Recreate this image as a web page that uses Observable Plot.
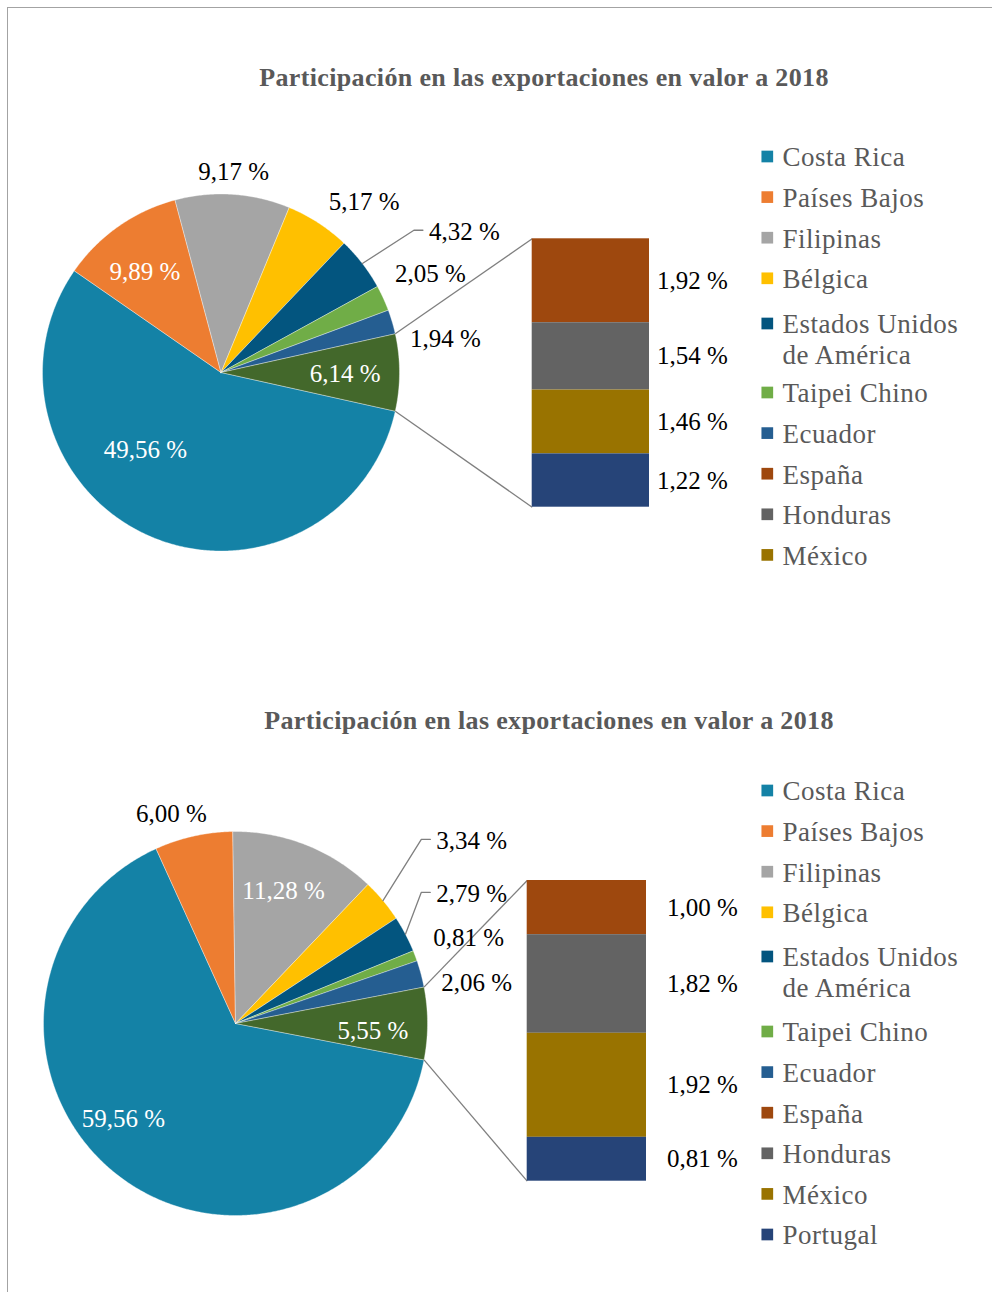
<!DOCTYPE html>
<html><head><meta charset="utf-8">
<script src="https://cdn.jsdelivr.net/npm/d3@7"></script>
<script src="https://cdn.jsdelivr.net/npm/@observablehq/plot@0.6"></script>
<style>
html,body{margin:0;padding:0;background:#fff;}
#page{position:relative;width:992px;height:1292px;overflow:hidden;font-family:"Liberation Serif",serif;}
#frame{position:absolute;left:7px;top:7px;width:1100px;height:1400px;border-left:1.5px solid #a3a3a3;border-top:1.5px solid #a3a3a3;}
.title{position:absolute;left:0;font-weight:bold;font-size:26px;line-height:26px;letter-spacing:0.35px;color:#595959;text-align:center;white-space:nowrap;z-index:2;}
.panel{position:absolute;left:0;z-index:1;}
.legtext{letter-spacing:0.5px;}
</style></head><body><div id="page"><div id="frame"></div></div>
<script>
// ---------------- data ----------------
const title = "Participación en las exportaciones en valor a 2018";
const countries = ["Costa Rica", "Países Bajos", "Filipinas", "Bélgica", "Estados Unidos de América",
  "Taipei Chino", "Ecuador", "España", "Honduras", "México", "Portugal"];
const colors = ["#1482A6", "#ED7D31", "#A5A5A5", "#FFC000", "#03557F",
  "#70AD47", "#255E91", "#9E480E", "#636363", "#997300", "#264478"];
const otherColor = "#43682B";
const pieCountries = countries.slice(0, 7);
const barCountries = countries.slice(7, 11);
// chart A (top)
const pieSharesA = [49.56, 9.89, 9.17, 5.17, 4.32, 2.05, 1.94];
const barSharesA = [1.92, 1.54, 1.46, 1.22];
const legendA = countries.slice(0, 10);
// chart B (bottom)
const pieSharesB = [59.56, 6.00, 11.28, 3.34, 2.79, 0.81, 2.06];
const barSharesB = [1.00, 1.82, 1.92, 0.81];
const legendB = countries.slice(0, 11);

// ---------------- layout ----------------
const font = "Liberation Serif";
const fmt = d3.formatLocale({decimal: ",", thousands: ".", grouping: [3], currency: ["", ""]}).format(".2f");
const pct = v => fmt(v) + " %";
const colorOf = name => name === "Otros" ? otherColor : colors[countries.indexOf(name)];

const layoutA = {
  top: 0, height: 646, cx: 220.5, cy: 372, r: 178.5,
  bar: {x1: 531.7, x2: 649, top: 238.3, bottom: 506.7}, barLabelX: 692,
  // label placement (polar: angle in degrees, radius factor), "leader" = left-anchored with leader line
  labels: [[225.6, 0.606], [127.1, 0.706], [86.4, 1.127], [50.0, 1.248], [34.0, 1.405, "leader"],
           [25.1, 1.296], [8.56, 1.271], [-0.6, 0.695]],
  legendY0: 156, legendStep: 40.6, legendExtra: 33, legendShift: 4.6,
  titleCenter: 544, titleTop: 65
};
const layoutB = {
  top: 646, height: 646, cx: 235, cy: 1023, r: 192,
  bar: {x1: 526.7, x2: 646, top: 880, bottom: 1180.7}, barLabelX: 702,
  labels: [[220.3, 0.765], [106.95, 1.143], [70.0, 0.732], [42.2, 1.412, "leader"], [32.74, 1.243, "leader"],
           [20.04, 1.292], [9.54, 1.273], [-3.33, 0.717]],
  legendY0: 790, legendStep: 40.6, legendExtra: 38, legendShift: 3.6,
  titleCenter: 549, titleTop: 708
};

function wrap(label, max) {
  const lines = []; let cur = "";
  for (const w of label.split(" ")) {
    if (cur && (cur + " " + w).length > max) { lines.push(cur); cur = w; }
    else cur = cur ? cur + " " + w : w;
  }
  lines.push(cur);
  return lines.join("\n");
}

function panel(shares, barShares, legendNames, L) {
  const other = d3.sum(barShares);
  const total = d3.sum(shares) + other;
  const deg = v => v / total * 360;
  const start = -deg(other) / 2;
  const pt = (a, rad) => [L.cx + rad * Math.cos(a * Math.PI / 180), L.cy - rad * Math.sin(a * Math.PI / 180)];

  // slices: clockwise from the lower edge of the "other" slice
  const slices = [];
  let cum = 0;
  pieCountries.forEach((name, i) => {
    const a1 = start - cum, a0 = a1 - deg(shares[i]);
    cum += deg(shares[i]);
    slices.push({name, value: shares[i], a0, a1});
  });
  slices.push({name: "Otros", value: other, a0: start, a1: -start});

  const polys = slices.flatMap(s => {
    const n = Math.max(4, Math.ceil((s.a1 - s.a0) / 0.5));
    const pts = [[L.cx, L.cy]];
    for (let k = 0; k <= n; k++) pts.push(pt(s.a0 + (s.a1 - s.a0) * k / n, L.r));
    pts.push([L.cx, L.cy]);
    return pts.map(([x, y]) => ({name: s.name, x, y, fill: colorOf(s.name)}));
  });

  // pie labels
  const plain = [], leaderLabels = [], leaderPts = [];
  slices.forEach((s, i) => {
    const [ang, k, kind] = L.labels[i];
    const [x, y] = pt(ang, L.r * k);
    const row = {name: s.name, x, y, text: pct(s.value), fill: k < 1 ? "white" : "black"};
    if (kind === "leader") {
      leaderLabels.push(row);
      const mid = (s.a0 + s.a1) / 2;
      const [sx, sy] = pt(mid, L.r);
      leaderPts.push({name: s.name, x: sx, y: sy}, {name: s.name, x: x - 15, y: y - 2}, {name: s.name, x: x - 6, y: y - 2});
    } else plain.push(row);
  });

  // bar of "other"
  const yb = d3.scaleLinear([0, other], [L.bar.bottom, L.bar.top]);
  let c = other;
  const segs = barCountries.map((name, i) => {
    const hi = c, lo = c - barShares[i]; c = lo;
    return {name, value: barShares[i], y1: yb(hi), y2: yb(lo), ym: yb((hi + lo) / 2), fill: colorOf(name)};
  });

  const [ux, uy] = pt(-start, L.r), [lx, ly] = pt(start, L.r);
  const links = [
    {x1: ux, y1: uy, x2: L.bar.x1, y2: L.bar.top},
    {x1: lx, y1: ly, x2: L.bar.x1, y2: L.bar.bottom}
  ];

  // legend
  const legend = legendNames.map((name, i) => {
    const text = wrap(name, 15);
    const nl = text.split("\n").length;
    const first = L.legendY0 + i * L.legendStep + (nl > 1 ? L.legendShift : 0) +
      (legendNames.slice(0, i).some(n => wrap(n, 15).includes("\n")) ? L.legendExtra : 0);
    return {name, text, y: first, ty: first + (nl - 1) * 31 / 2, fill: colorOf(name)};
  });

  return Plot.plot({
    width: 992, height: L.height, margin: 0,
    x: {type: "linear", domain: [0, 992], range: [0, 992], axis: null},
    y: {type: "linear", domain: [L.top, L.top + L.height], range: [0, L.height], axis: null},
    color: {type: "identity"},
    style: {background: "none", overflow: "visible"},
    marks: [
      Plot.line(polys, {x: "x", y: "y", z: "name", fill: "fill", stroke: "white", strokeWidth: 0.6, strokeOpacity: 0.6, curve: "linear"}),
      Plot.link(links, {x1: "x1", y1: "y1", x2: "x2", y2: "y2", stroke: "#7F7F7F", strokeWidth: 1.3}),
      Plot.rect(segs, {x1: L.bar.x1, x2: L.bar.x2, y1: "y1", y2: "y2", fill: "fill"}),
      Plot.text(segs, {x: L.barLabelX, y: "ym", text: d => pct(d.value), fill: "black", fontSize: 25, fontFamily: font}),
      Plot.line(leaderPts, {x: "x", y: "y", z: "name", stroke: "#7F7F7F", strokeWidth: 1.3}),
      Plot.text(plain, {x: "x", y: "y", text: "text", fill: "fill", fontSize: 25, fontFamily: font}),
      Plot.text(leaderLabels, {x: "x", y: "y", text: "text", fill: "black", fontSize: 25, fontFamily: font, textAnchor: "start"}),
      Plot.dot(legend, {x: 766.8, y: "y", symbol: "square", r: 6.6, fill: "fill", stroke: "none"}),
      Plot.text(legend, {x: 782, y: "ty", text: "text", fill: "#595959", fontSize: 27, fontFamily: font, textAnchor: "start", lineHeight: 31 / 27, className: "legtext"})
    ]
  });
}

const page = document.getElementById("page");
[[pieSharesA, barSharesA, legendA, layoutA], [pieSharesB, barSharesB, legendB, layoutB]].forEach(([s, b, lg, L]) => {
  const t = document.createElement("div");
  t.className = "title";
  t.textContent = title;
  t.style.top = L.titleTop + "px";
  t.style.width = (2 * L.titleCenter) + "px";
  page.appendChild(t);
  const svg = panel(s, b, lg, L);
  const wrapDiv = document.createElement("div");
  wrapDiv.className = "panel";
  wrapDiv.style.top = L.top + "px";
  wrapDiv.appendChild(svg);
  page.appendChild(wrapDiv);
});
</script></body></html>
